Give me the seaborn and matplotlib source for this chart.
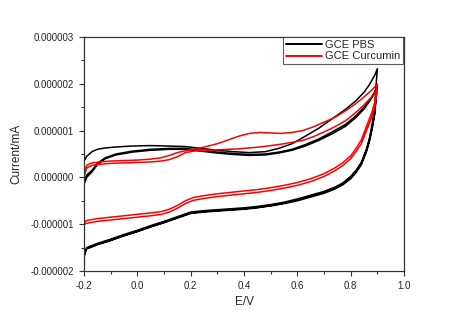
import numpy as np
import pandas as pd
import matplotlib
matplotlib.use("Agg")
import matplotlib.pyplot as plt
import seaborn as sns
from matplotlib.ticker import MultipleLocator, FormatStrFormatter
from matplotlib.lines import Line2D

# ---- data (values in units of 1e-6 mA) ----
pbs_an_v = [-0.2, -0.19, -0.17, -0.15, -0.12, -0.08, -0.02, 0.05, 0.12, 0.18, 0.24, 0.30, 0.36, 0.42, 0.48,
            0.53, 0.58, 0.63, 0.68, 0.73, 0.78, 0.82, 0.85, 0.87, 0.89, 0.90]
pbs_an_i1 = [0.35, 0.45, 0.55, 0.60, 0.63, 0.65, 0.67, 0.68, 0.67, 0.66, 0.62, 0.58, 0.55, 0.53, 0.55,
             0.62, 0.72, 0.88, 1.05, 1.25, 1.45, 1.64, 1.82, 1.98, 2.18, 2.32]
pbs_an_i2 = [-0.10, 0.05, 0.15, 0.30, 0.42, 0.50, 0.56, 0.60, 0.62, 0.62, 0.58, 0.54, 0.51, 0.49, 0.50,
             0.54, 0.60, 0.70, 0.82, 0.97, 1.13, 1.32, 1.50, 1.65, 1.82, 1.98]
pbs_an_i3 = [-0.15, 0.00, 0.12, 0.27, 0.40, 0.48, 0.54, 0.58, 0.60, 0.60, 0.56, 0.52, 0.49, 0.47, 0.48,
             0.52, 0.58, 0.67, 0.79, 0.93, 1.09, 1.28, 1.46, 1.62, 1.80, 1.95]
pbs_ca_v = [0.90, 0.895, 0.89, 0.88, 0.87, 0.86, 0.84, 0.82, 0.80, 0.77, 0.74, 0.70, 0.65, 0.60, 0.55, 0.50,
            0.45, 0.40, 0.35, 0.30, 0.25, 0.20, 0.15, 0.10, 0.05, 0.0, -0.05, -0.10, -0.15, -0.19, -0.2, -0.199, -0.2]
pbs_ca_i1 = [2.32, 1.95, 1.50, 1.12, 0.83, 0.62, 0.32, 0.15, 0.02, -0.12, -0.21, -0.30, -0.38, -0.46, -0.53, -0.58,
             -0.62, -0.65, -0.67, -0.69, -0.71, -0.74, -0.84, -0.94, -1.03, -1.13, -1.22, -1.32, -1.41, -1.50, -1.72, -1.45, -1.52]
pbs_ca_i2 = [1.98, 1.70, 1.38, 1.05, 0.79, 0.59, 0.30, 0.13, 0.00, -0.14, -0.23, -0.32, -0.40, -0.48, -0.55, -0.60,
             -0.64, -0.67, -0.69, -0.71, -0.73, -0.76, -0.86, -0.96, -1.05, -1.15, -1.24, -1.34, -1.43, -1.52, -1.65, -1.50, -1.55]
pbs_ca_i3 = [1.95, 1.66, 1.34, 1.02, 0.76, 0.56, 0.27, 0.10, -0.03, -0.16, -0.25, -0.34, -0.42, -0.50, -0.56, -0.61,
             -0.65, -0.68, -0.70, -0.72, -0.74, -0.77, -0.87, -0.97, -1.06, -1.16, -1.25, -1.35, -1.44, -1.53, -1.60, -1.52, -1.55]

cur_an_v = [-0.2, -0.19, -0.17, -0.14, -0.10, -0.05, 0.0, 0.05, 0.09, 0.12, 0.15, 0.18, 0.22, 0.26, 0.30, 0.34,
            0.38, 0.42, 0.46, 0.50, 0.54, 0.58, 0.62, 0.66, 0.70, 0.74, 0.78, 0.82, 0.85, 0.87, 0.89, 0.90]
cur_an_i1 = [0.06, 0.26, 0.31, 0.33, 0.35, 0.36, 0.37, 0.39, 0.42, 0.47, 0.53, 0.57, 0.61, 0.66, 0.72, 0.80,
             0.88, 0.94, 0.96, 0.95, 0.94, 0.96, 1.00, 1.08, 1.18, 1.28, 1.42, 1.58, 1.72, 1.82, 1.93, 1.99]
cur_an_i2 = [0.02, 0.20, 0.26, 0.28, 0.30, 0.31, 0.32, 0.33, 0.35, 0.38, 0.44, 0.53, 0.57, 0.58, 0.59, 0.60,
             0.61, 0.63, 0.65, 0.68, 0.71, 0.75, 0.79, 0.87, 0.97, 1.08, 1.21, 1.39, 1.55, 1.67, 1.79, 1.88]
cur_ca_v = [0.90, 0.895, 0.89, 0.88, 0.87, 0.86, 0.84, 0.82, 0.80, 0.77, 0.74, 0.70, 0.65, 0.60, 0.55, 0.50,
            0.45, 0.40, 0.35, 0.30, 0.25, 0.21, 0.18, 0.15, 0.12, 0.09, 0.05, 0.0, -0.05, -0.10, -0.15, -0.19, -0.2, -0.2]
cur_ca_i1 = [1.99, 1.78, 1.60, 1.40, 1.25, 1.10, 0.80, 0.62, 0.46, 0.31, 0.20, 0.08, -0.03, -0.11, -0.17, -0.22,
             -0.26, -0.29, -0.32, -0.35, -0.39, -0.43, -0.50, -0.60, -0.68, -0.73, -0.76, -0.79, -0.82, -0.85, -0.88, -0.92, -0.97, -1.05]
cur_ca_i2 = [1.88, 1.68, 1.50, 1.30, 1.15, 1.01, 0.72, 0.55, 0.40, 0.25, 0.14, 0.02, -0.09, -0.17, -0.23, -0.28,
             -0.32, -0.35, -0.38, -0.41, -0.45, -0.49, -0.56, -0.66, -0.74, -0.79, -0.82, -0.85, -0.88, -0.91, -0.94, -0.98, -1.01, -1.03]

labels = ["GCE PBS", "GCE Curcumin"]
colors = ["#000000", "#ff0000"]
scale = 1e-6

rows = []
def add(series, unit, vs, cs):
    for v, c in zip(vs, cs):
        rows.append((series, unit, v, c * scale))

add(labels[0], 0, pbs_an_v + pbs_ca_v + pbs_an_v + pbs_ca_v + pbs_an_v + pbs_ca_v,
    pbs_an_i1 + pbs_ca_i1 + pbs_an_i2 + pbs_ca_i2 + pbs_an_i3 + pbs_ca_i3)
add(labels[1], 1, cur_an_v + cur_ca_v + cur_an_v + cur_ca_v,
    cur_an_i1 + cur_ca_i1 + cur_an_i2 + cur_ca_i2)
df = pd.DataFrame(rows, columns=["series", "unit", "E", "I"])

sns.set_style("ticks")
plt.rcParams["font.family"] = ["Liberation Sans", "DejaVu Sans"]

fig = plt.figure(figsize=(4.68, 3.28), dpi=100)
ax = fig.add_axes([84/468, 1-271/328, (404-84)/468, (271-37)/328])
sns.lineplot(data=df, x="E", y="I", hue="series", units="unit", estimator=None, sort=False,
             palette=dict(zip(labels, colors)), linewidth=1.1, ax=ax, legend=False)

ax.set_xlim(-0.2, 1.0)
ax.set_ylim(-0.000002, 0.000003)
ax.xaxis.set_major_locator(MultipleLocator(0.2))
ax.xaxis.set_minor_locator(MultipleLocator(0.1))
ax.yaxis.set_major_locator(MultipleLocator(0.000001))
ax.yaxis.set_minor_locator(MultipleLocator(0.0000005))
ax.xaxis.set_major_formatter(FormatStrFormatter("%.1f"))
ax.yaxis.set_major_formatter(FormatStrFormatter("%.6f"))
ax.tick_params(axis="both", which="major", labelsize=7, length=3.5, width=0.8, direction="out", color="#333333")
ax.tick_params(axis="both", which="minor", length=2, width=0.8, direction="out", color="#333333")
for s in ax.spines.values():
    s.set_color("#333333")
    s.set_linewidth(0.9)
ax.set_xlabel("E/V", fontsize=8.5, labelpad=4)
ax.set_ylabel("Current/mA", fontsize=8.5, labelpad=6)

handles = [Line2D([], [], color=c, lw=1.4) for c in colors]
leg = ax.legend(handles, labels, loc="upper right", bbox_to_anchor=(0.997, 1.0), fontsize=8,
                frameon=True, fancybox=False, handlelength=3.2, handletextpad=0.3,
                borderpad=0.25, labelspacing=0.15, borderaxespad=0.0)
leg.get_frame().set_edgecolor("#333333")
leg.get_frame().set_linewidth(0.8)

fig.savefig("out.png", dpi=100)
